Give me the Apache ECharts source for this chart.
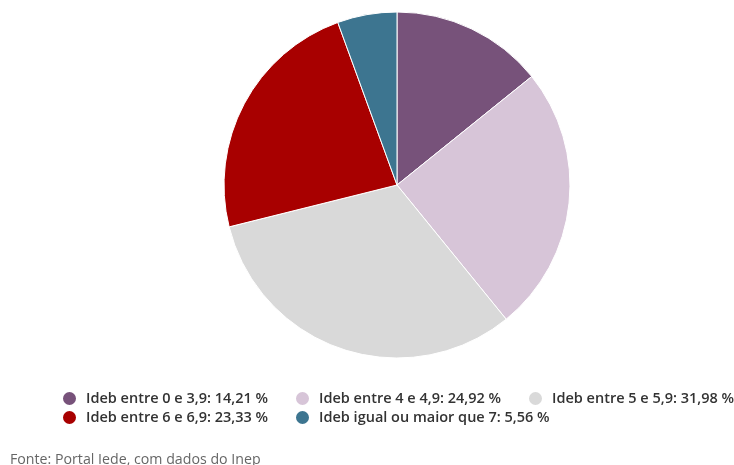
<!DOCTYPE html>
<html>
<head>
<meta charset="utf-8">
<script src="https://cdn.jsdelivr.net/npm/echarts@6/dist/echarts.min.js"></script>
<style>
  html, body { margin: 0; padding: 0; background: #fff; }
  #chart { width: 734px; height: 465px; }
</style>
</head>
<body>
<div id="chart"></div>
<script>
// Ideb ranges and their share of schools (%)
const categories = [
  'Ideb entre 0 e 3,9',
  'Ideb entre 4 e 4,9',
  'Ideb entre 5 e 5,9',
  'Ideb entre 6 e 6,9',
  'Ideb igual ou maior que 7'
];
const shares = [14.21, 24.92, 31.98, 23.33, 5.56];
const colors = ['#77527a', '#d7c5d8', '#d9d9d9', '#a80000', '#3d7590'];
const source = 'Fonte: Portal Iede, com dados do Inep';

const fmtPct = v => v.toFixed(2).replace('.', ',') + ' %';
const shareByName = {};
categories.forEach((c, i) => { shareByName[c] = shares[i]; });

const legendBase = {
  orient: 'vertical',
  top: 385,
  padding: 5,
  itemGap: 2,
  itemWidth: 15,
  itemHeight: 15,
  icon: 'circle',
  selectedMode: false,
  textStyle: {
    fontFamily: 'Open Sans', fontSize: 14.5, fontWeight: 600, color: '#333',
    padding: [0, 0, 0, 4]
  },
  formatter: name => name + ': ' + fmtPct(shareByName[name])
};

const chart = echarts.init(document.getElementById('chart'), null, { renderer: 'canvas' });
chart.setOption({
  animation: false,
  color: colors,
  legend: [
    Object.assign({}, legendBase, { left: 56, data: [categories[0], categories[3]] }),
    Object.assign({}, legendBase, { left: 289, data: [categories[1], categories[4]] }),
    Object.assign({}, legendBase, { left: 522, data: [categories[2]] })
  ],
  graphic: [{
    type: 'text',
    left: 10,
    top: 453,
    style: { text: source, fontFamily: 'Open Sans', fontSize: 14.2, fill: '#666' }
  }],
  series: [{
    type: 'pie',
    center: [397, 185],
    radius: 173,
    startAngle: 90,
    clockwise: true,
    label: { show: false },
    labelLine: { show: false },
    itemStyle: { borderColor: '#fff', borderWidth: 1 },
    emphasis: { disabled: true },
    data: categories.map((c, i) => ({ name: c, value: shares[i] }))
  }]
});
</script>
</body>
</html>
